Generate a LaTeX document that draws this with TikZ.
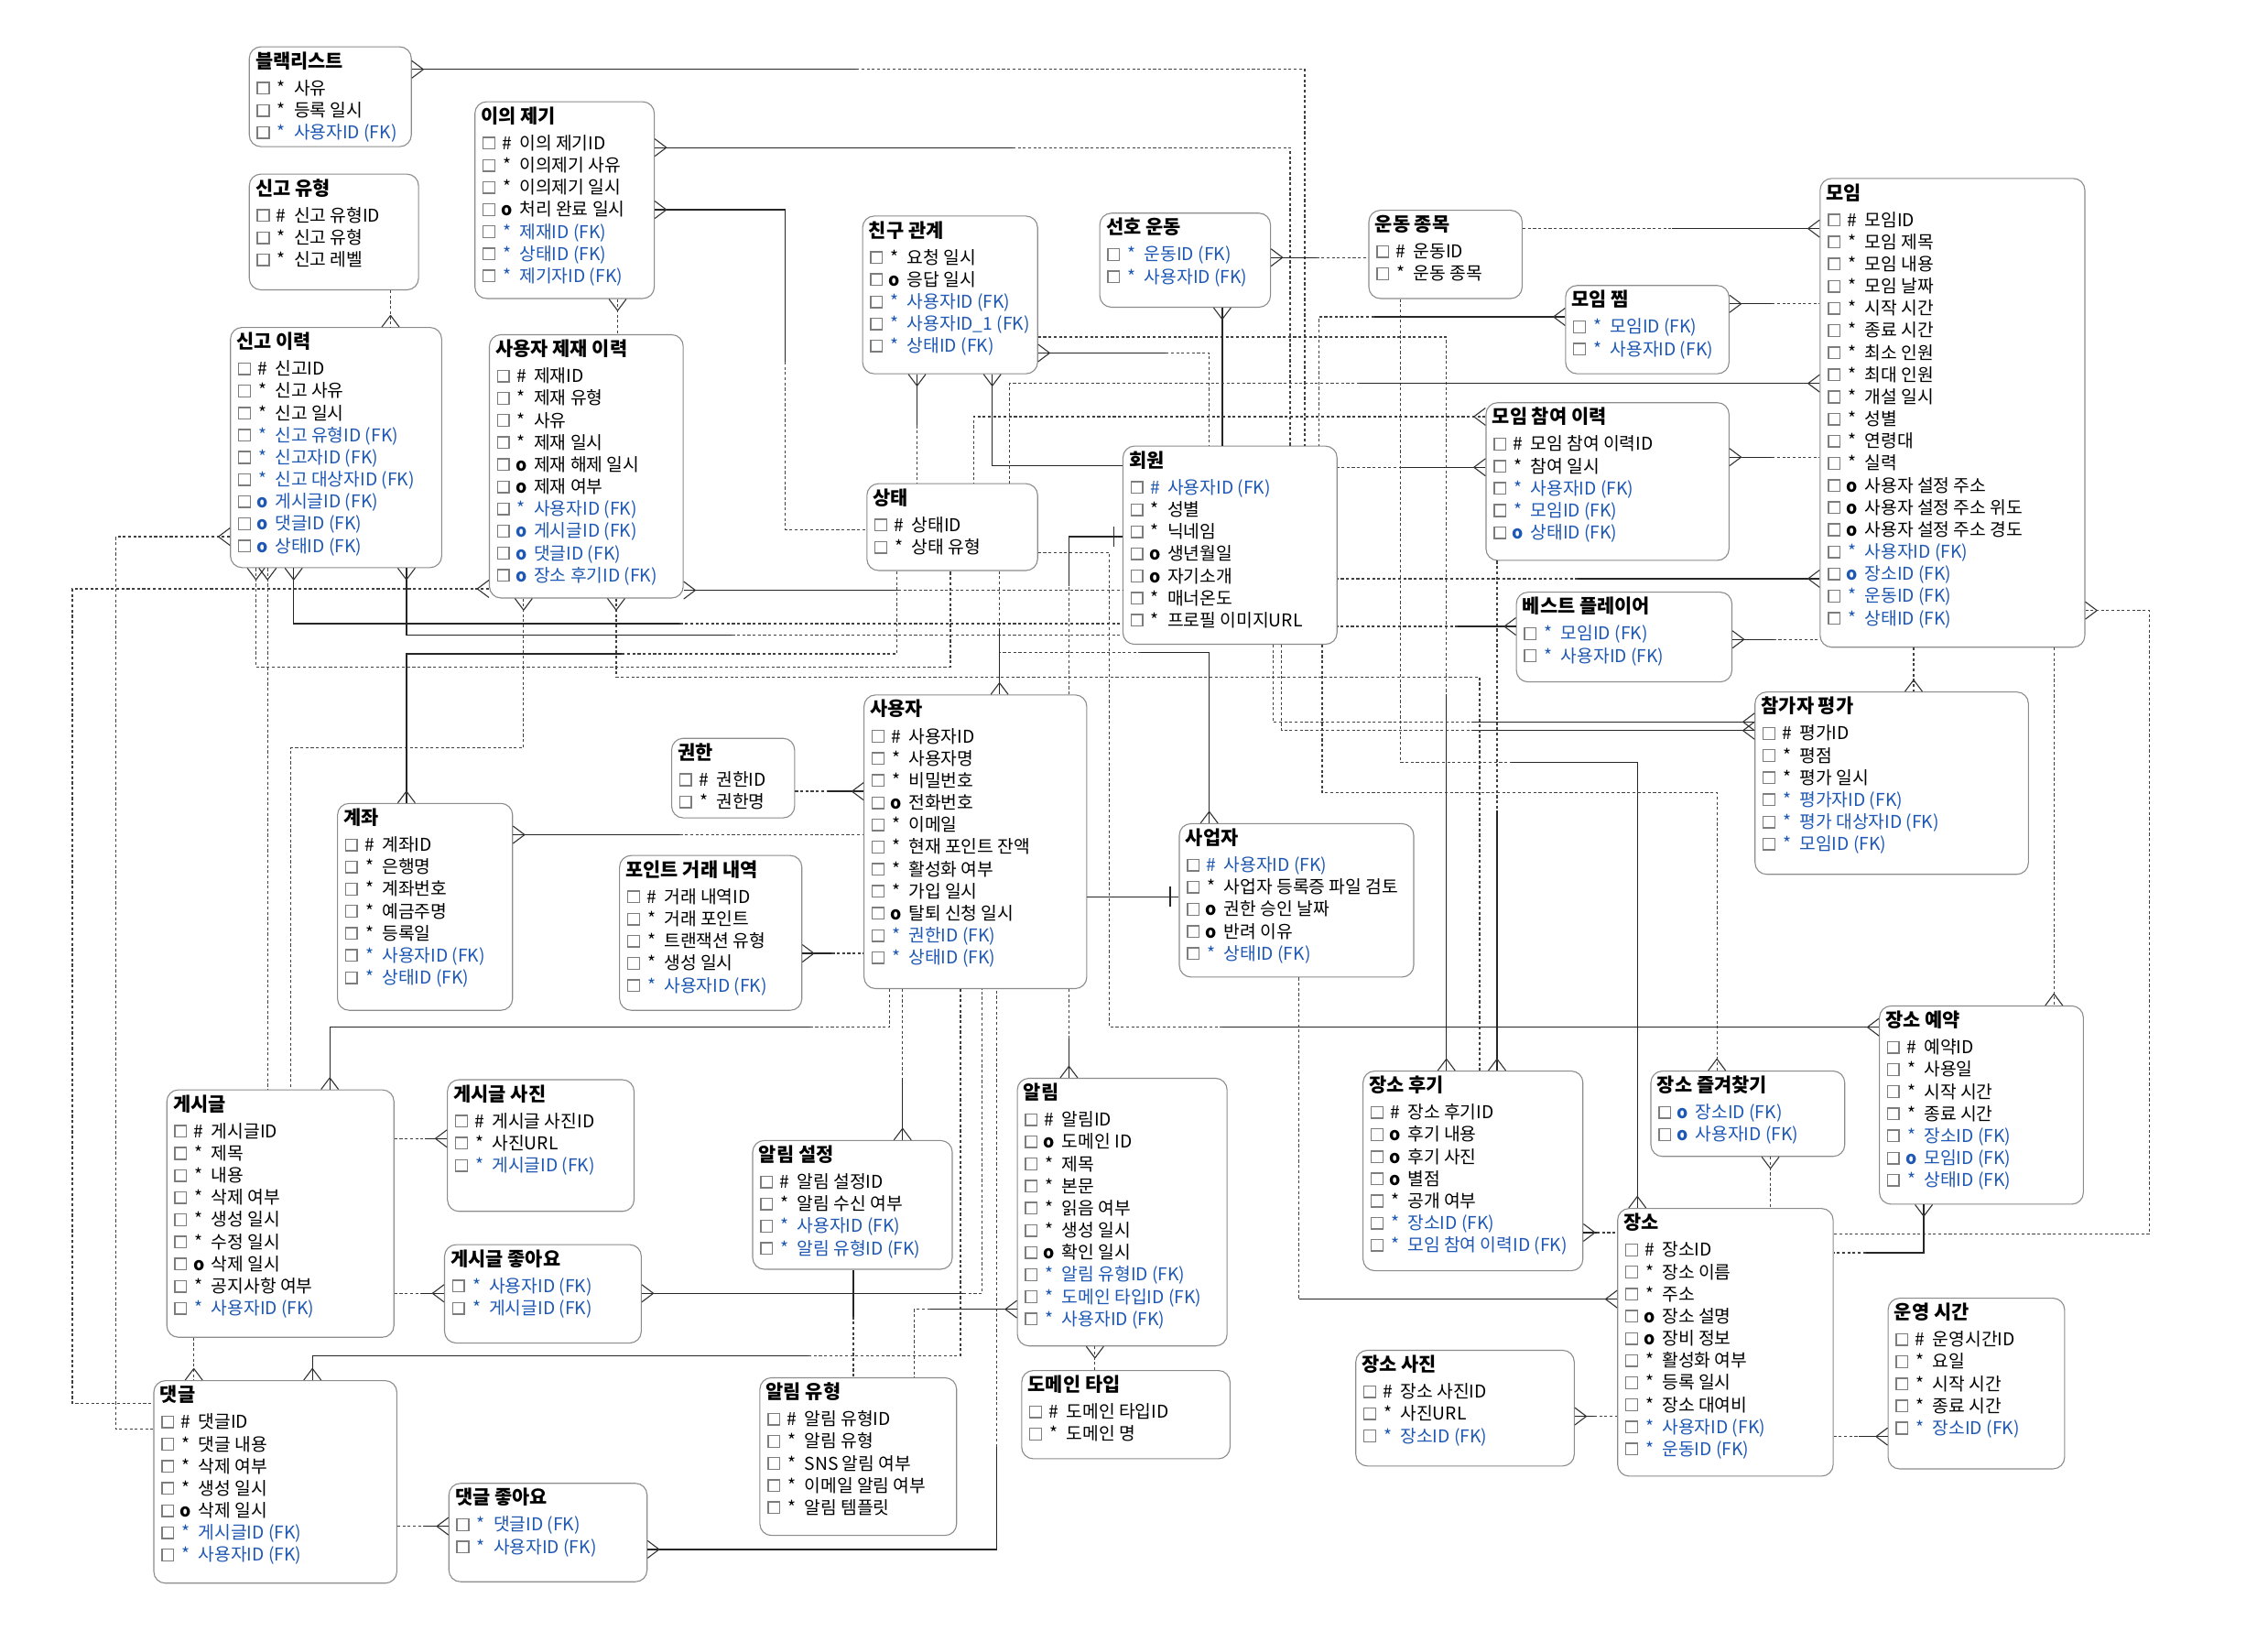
\documentclass[tikz,border=0pt]{standalone}
\usepackage{fontspec}
\setmainfont{Noto Sans CJK KR}
\usetikzlibrary{calc}
\definecolor{fkc}{RGB}{30,88,180}
\definecolor{bxc}{RGB}{140,140,140}
\definecolor{chkc}{RGB}{125,125,125}
\newcounter{rc}
\tikzset{
 ebox/.style={draw=bxc, line width=0.7pt, rounded corners=8pt, fill=white, inner sep=0pt},
 etitle/.style={font=\fontsize{13.2}{15}\selectfont\bfseries, anchor=base west, inner sep=0pt},
 rowt/.style={font=\fontsize{12.2}{14}\selectfont, anchor=base west, inner sep=0pt},
 symt/.style={font=\fontsize{12.2}{14}\selectfont, anchor=base, inner sep=0pt},
 chk/.style={draw=chkc, line width=0.9pt},
 sl/.style={draw=black!85, line width=0.8pt},
 dl/.style={draw=black!75, line width=0.8pt, dash pattern=on 2pt off 1.6pt},
 cfs/.style={draw=black!80, line width=0.7pt},
}
\newcommand\Ent[6]{%
 \node[ebox, anchor=north west, minimum width={(#4-#2)*1pt}, minimum height={(#5-#3)*1pt}] (#1) at (#2,#3) {};
 \node[etitle] (#1-t) at (#2+4.5,#3+15) {#6};
 \xdef\eL{#2}\xdef\eT{#3}\xdef\eI{0}%
}
\newcommand\Erow[3]{%
 \pgfmathsetmacro\myry{\eT+29+\eI*15.3}%
 \stepcounter{rc}%
 \draw[chk] (\eL+6,\myry-4) rectangle (\eL+14,\myry+4);%
 \node[symt,text=#3] (s\therc) at (\eL+22.5,\myry+4.4) {#1};%
 \node[rowt,text=#3] (t\therc) at (\eL+31,\myry+4.4) {#2};%
 \pgfmathtruncatemacro\eInext{\eI+1}\xdef\eI{\eInext}%
}
\newcommand\EA[2]{\Erow{#1}{#2}{black}}
\newcommand\EF[2]{\Erow{#1}{#2}{fkc}}
\newcommand\Eo{\textbf{o}}
\newcommand\cfE[1]{\draw[cfs] (#1) ++(8,0) -- ++(-8,-6) (#1) ++(8,0) -- ++(-8,6);}
\newcommand\cfW[1]{\draw[cfs] (#1) ++(-8,0) -- ++(8,-6) (#1) ++(-8,0) -- ++(8,6);}
\newcommand\cfN[1]{\draw[cfs] (#1) ++(0,-8) -- ++(-6,8) (#1) ++(0,-8) -- ++(6,8);}
\newcommand\cfS[1]{\draw[cfs] (#1) ++(0,8) -- ++(-6,-8) (#1) ++(0,8) -- ++(6,-8);}
\begin{document}
\begin{tikzpicture}[x=1pt,y=-1pt]
\useasboundingbox[fill=white] (0,0) rectangle (1568,1127);
% ---------------- entities ----------------
\Ent{blk}{172}{32}{284}{101}{블랙리스트}
\EA{*}{사유}\EA{*}{등록 일시}\EF{*}{사용자ID (FK)}
\Ent{iui}{328}{70}{452}{206}{이의 제기}
\EA{\#}{이의 제기ID}\EA{*}{이의제기 사유}\EA{*}{이의제기 일시}\EA{\Eo}{처리 완료 일시}\EF{*}{제재ID (FK)}\EF{*}{상태ID (FK)}\EF{*}{제기자ID (FK)}
\Ent{sgt}{172}{120}{289}{200}{신고 유형}
\EA{\#}{신고 유형ID}\EA{*}{신고 유형}\EA{*}{신고 레벨}
\Ent{sgh}{159}{226}{305}{392}{신고 이력}
\EA{\#}{신고ID}\EA{*}{신고 사유}\EA{*}{신고 일시}\EF{*}{신고 유형ID (FK)}\EF{*}{신고자ID (FK)}\EF{*}{신고 대상자ID (FK)}\EF{\Eo}{게시글ID (FK)}\EF{\Eo}{댓글ID (FK)}\EF{\Eo}{상태ID (FK)}
\Ent{jje}{338}{231}{472}{413}{사용자 제재 이력}
\EA{\#}{제재ID}\EA{*}{제재 유형}\EA{*}{사유}\EA{*}{제재 일시}\EA{\Eo}{제재 해제 일시}\EA{\Eo}{제재 여부}\EF{*}{사용자ID (FK)}\EF{\Eo}{게시글ID (FK)}\EF{\Eo}{댓글ID (FK)}\EF{\Eo}{장소 후기ID (FK)}
\Ent{chg}{596}{149}{717}{258}{친구 관계}
\EA{*}{요청 일시}\EA{\Eo}{응답 일시}\EF{*}{사용자ID (FK)}\EF{*}{사용자ID\_1 (FK)}\EF{*}{상태ID (FK)}
\Ent{shw}{760}{147}{878}{212}{선호 운동}
\EF{*}{운동ID (FK)}\EF{*}{사용자ID (FK)}
\Ent{udj}{946}{145}{1052}{206}{운동 종목}
\EA{\#}{운동ID}\EA{*}{운동 종목}
\Ent{mjj}{1082}{197}{1195}{258}{모임 찜}
\EF{*}{모임ID (FK)}\EF{*}{사용자ID (FK)}
\Ent{moim}{1258}{123}{1441}{447}{모임}
\EA{\#}{모임ID}\EA{*}{모임 제목}\EA{*}{모임 내용}\EA{*}{모임 날짜}\EA{*}{시작 시간}\EA{*}{종료 시간}\EA{*}{최소 인원}\EA{*}{최대 인원}\EA{*}{개설 일시}\EA{*}{성별}\EA{*}{연령대}\EA{*}{실력}\EA{\Eo}{사용자 설정 주소}\EA{\Eo}{사용자 설정 주소 위도}\EA{\Eo}{사용자 설정 주소 경도}\EF{*}{사용자ID (FK)}\EF{\Eo}{장소ID (FK)}\EF{*}{운동ID (FK)}\EF{*}{상태ID (FK)}
\Ent{mch}{1027}{278}{1195}{387}{모임 참여 이력}
\EA{\#}{모임 참여 이력ID}\EA{*}{참여 일시}\EF{*}{사용자ID (FK)}\EF{*}{모임ID (FK)}\EF{\Eo}{상태ID (FK)}
\Ent{hw}{776}{308}{924}{445}{회원}
\EF{\#}{사용자ID (FK)}\EA{*}{성별}\EA{*}{닉네임}\EA{\Eo}{생년월일}\EA{\Eo}{자기소개}\EA{*}{매너온도}\EA{*}{프로필 이미지URL}
\Ent{st}{599}{334}{717}{394}{상태}
\EA{\#}{상태ID}\EA{*}{상태 유형}
\Ent{bp}{1048}{409}{1197}{471}{베스트 플레이어}
\EF{*}{모임ID (FK)}\EF{*}{사용자ID (FK)}
\Ent{cgp}{1213}{478}{1402}{604}{참가자 평가}
\EA{\#}{평가ID}\EA{*}{평점}\EA{*}{평가 일시}\EF{*}{평가자ID (FK)}\EF{*}{평가 대상자ID (FK)}\EF{*}{모임ID (FK)}
\Ent{usr}{597}{480}{751}{683}{사용자}
\EA{\#}{사용자ID}\EA{*}{사용자명}\EA{*}{비밀번호}\EA{\Eo}{전화번호}\EA{*}{이메일}\EA{*}{현재 포인트 잔액}\EA{*}{활성화 여부}\EA{*}{가입 일시}\EA{\Eo}{탈퇴 신청 일시}\EF{*}{권한ID (FK)}\EF{*}{상태ID (FK)}
\Ent{gh}{464}{510}{549}{565}{권한}
\EA{\#}{권한ID}\EA{*}{권한명}
\Ent{gj}{233}{555}{354}{698}{계좌}
\EA{\#}{계좌ID}\EA{*}{은행명}\EA{*}{계좌번호}\EA{*}{예금주명}\EA{*}{등록일}\EF{*}{사용자ID (FK)}\EF{*}{상태ID (FK)}
\Ent{pt}{428}{591}{554}{698}{포인트 거래 내역}
\EA{\#}{거래 내역ID}\EA{*}{거래 포인트}\EA{*}{트랜잭션 유형}\EA{*}{생성 일시}\EF{*}{사용자ID (FK)}
\Ent{bz}{815}{569}{977}{675}{사업자}
\EF{\#}{사용자ID (FK)}\EA{*}{사업자 등록증 파일 검토}\EA{\Eo}{권한 승인 날짜}\EA{\Eo}{반려 이유}\EF{*}{상태ID (FK)}
\Ent{jy}{1299}{695}{1440}{832}{장소 예약}
\EA{\#}{예약ID}\EA{*}{사용일}\EA{*}{시작 시간}\EA{*}{종료 시간}\EF{*}{장소ID (FK)}\EF{\Eo}{모임ID (FK)}\EF{*}{상태ID (FK)}
\Ent{gsg}{115}{753}{272}{924}{게시글}
\EA{\#}{게시글ID}\EA{*}{제목}\EA{*}{내용}\EA{*}{삭제 여부}\EA{*}{생성 일시}\EA{*}{수정 일시}\EA{\Eo}{삭제 일시}\EA{*}{공지사항 여부}\EF{*}{사용자ID (FK)}
\Ent{gsp}{309}{746}{438}{837}{게시글 사진}
\EA{\#}{게시글 사진ID}\EA{*}{사진URL}\EF{*}{게시글ID (FK)}
\Ent{jh}{942}{740}{1094}{878}{장소 후기}
\EA{\#}{장소 후기ID}\EA{\Eo}{후기 내용}\EA{\Eo}{후기 사진}\EA{\Eo}{별점}\EA{*}{공개 여부}\EF{*}{장소ID (FK)}\EF{*}{모임 참여 이력ID (FK)}
\Ent{jf}{1141}{740}{1275}{799}{장소 즐겨찾기}
\EF{\Eo}{장소ID (FK)}\EF{\Eo}{사용자ID (FK)}
\Ent{as}{520}{788}{658}{877}{알림 설정}
\EA{\#}{알림 설정ID}\EA{*}{알림 수신 여부}\EF{*}{사용자ID (FK)}\EF{*}{알림 유형ID (FK)}
\Ent{al}{703}{745}{848}{930}{알림}
\EA{\#}{알림ID}\EA{\Eo}{도메인 ID}\EA{*}{제목}\EA{*}{본문}\EA{*}{읽음 여부}\EA{*}{생성 일시}\EA{\Eo}{확인 일시}\EF{*}{알림 유형ID (FK)}\EF{*}{도메인 타입ID (FK)}\EF{*}{사용자ID (FK)}
\Ent{gjy}{307}{860}{443}{928}{게시글 좋아요}
\EF{*}{사용자ID (FK)}\EF{*}{게시글ID (FK)}
\Ent{js}{1118}{835}{1267}{1020}{장소}
\EA{\#}{장소ID}\EA{*}{장소 이름}\EA{*}{주소}\EA{\Eo}{장소 설명}\EA{\Eo}{장비 정보}\EA{*}{활성화 여부}\EA{*}{등록 일시}\EA{*}{장소 대여비}\EF{*}{사용자ID (FK)}\EF{*}{운동ID (FK)}
\Ent{uy}{1305}{897}{1427}{1015}{운영 시간}
\EA{\#}{운영시간ID}\EA{*}{요일}\EA{*}{시작 시간}\EA{*}{종료 시간}\EF{*}{장소ID (FK)}
\Ent{jsp}{937}{933}{1088}{1013}{장소 사진}
\EA{\#}{장소 사진ID}\EA{*}{사진URL}\EF{*}{장소ID (FK)}
\Ent{dm}{706}{947}{850}{1008}{도메인 타입}
\EA{\#}{도메인 타입ID}\EA{*}{도메인 명}
\Ent{dg}{106}{954}{274}{1094}{댓글}
\EA{\#}{댓글ID}\EA{*}{댓글 내용}\EA{*}{삭제 여부}\EA{*}{생성 일시}\EA{\Eo}{삭제 일시}\EF{*}{게시글ID (FK)}\EF{*}{사용자ID (FK)}
\Ent{ay}{525}{952}{661}{1061}{알림 유형}
\EA{\#}{알림 유형ID}\EA{*}{알림 유형}\EA{*}{SNS 알림 여부}\EA{*}{이메일 알림 여부}\EA{*}{알림 템플릿}
\Ent{djy}{310}{1025}{447}{1093}{댓글 좋아요}
\EF{*}{댓글ID (FK)}\EF{*}{사용자ID (FK)}
% ---------------- connectors ----------------
\draw[sl] (blk.east |- 0,48) -- (592,48);
\draw[dl] (592,48) -| (hw.north -| 902,0);
\cfE{blk.east |- 0,48}
\draw[sl] (iui.east |- 0,102) -- (700,102);
\draw[dl] (700,102) -| (hw.north -| 892,0);
\cfE{iui.east |- 0,102}
\draw[sl] (iui.east |- 0,145) -| (543,250);
\draw[dl] (543,250) |- (st.west |- 0,366);
\cfE{iui.east |- 0,145}
\draw[dl] (iui.south -| 427,0) -- (jje.north -| 427,0);
\cfS{iui.south -| 427,0}
\draw[dl] (sgt.south -| 270,0) -- (sgh.north -| 270,0);
\cfN{sgh.north -| 270,0}
\draw[sl] (chg.south -| 634,0) -- (634,294);
\draw[dl] (634,294) -- (st.north -| 634,0);
\cfS{chg.south -| 634,0}
\draw[sl] (chg.south -| 686,0) |- (hw.west |- 0,322);
\cfS{chg.south -| 686,0}
\draw[sl] (chg.east |- 0,244) -- (806,244);
\draw[dl] (806,244) -| (hw.north -| 836,0);
\cfE{chg.east |- 0,244}
\draw[dl] (chg.east |- 0,233) -| (1000,480);
\draw[sl] (1000,480) -- (jh.north -| 1000,0);
\cfN{jh.north -| 1000,0}
\draw[sl] (shw.east |- 0,178) -- (910,178);
\draw[dl] (910,178) -- (udj.west |- 0,178);
\cfE{shw.east |- 0,178}
\draw[sl] (shw.south -| 845,0) -- (hw.north -| 845,0);
\cfS{shw.south -| 845,0}
\draw[dl] (udj.east |- 0,158) -- (1156,158);
\draw[sl] (1156,158) -- (moim.west |- 0,158);
\cfW{moim.west |- 0,158}
\draw[dl] (udj.south -| 968,0) |- (1045,527);
\draw[sl] (1045,527) -| (js.north -| 1132,0);
\cfN{js.north -| 1132,0}
\draw[sl] (mjj.east |- 0,210) -- (1225,210);
\draw[dl] (1225,210) -- (moim.west |- 0,210);
\cfE{mjj.east |- 0,210}
\draw[sl] (mjj.west |- 0,219) -- (950,219);
\draw[dl] (950,219) -| (hw.north -| 912,0);
\cfW{mjj.west |- 0,219}
\draw[sl] (moim.west |- 0,265) -- (940,265);
\draw[dl] (940,265) -| (st.north -| 698,0);
\cfW{moim.west |- 0,265}
\draw[dl] (mch.west |- 0,288) -| (st.north -| 673,0);
\cfW{mch.west |- 0,288}
\draw[sl] (mch.west |- 0,323) -- (969,323);
\draw[dl] (969,323) -- (hw.east |- 0,323);
\cfW{mch.west |- 0,323}
\draw[sl] (mch.east |- 0,316) -- (1225,316);
\draw[dl] (1225,316) -- (moim.west |- 0,316);
\cfE{mch.east |- 0,316}
\draw[dl] (mch.south -| 1035,0) -- (1035,560);
\draw[sl] (1035,560) -- (jh.north -| 1035,0);
\cfN{jh.north -| 1035,0}
\draw[sl] (moim.west |- 0,400) -- (1091,400);
\draw[dl] (1091,400) -- (hw.east |- 0,400);
\cfW{moim.west |- 0,400}
\draw[sl] (bp.west |- 0,433) -- (1008,433);
\draw[dl] (1008,433) -- (hw.east |- 0,433);
\cfW{bp.west |- 0,433}
\draw[sl] (bp.east |- 0,442) -- (1226,442);
\draw[dl] (1226,442) -- (moim.west |- 0,442);
\cfE{bp.east |- 0,442}
\draw[dl] (moim.south -| 1323,0) -- (cgp.north -| 1323,0);
\cfN{cgp.north -| 1323,0}
\draw[dl] (moim.south -| 1420,0) -- (jy.north -| 1420,0);
\cfN{jy.north -| 1420,0}
\draw[dl] (moim.east |- 0,422) -| (1486,853) -- (js.east |- 0,853);
\cfE{moim.east |- 0,422}
\draw[dl] (hw.south -| 880,0) |- (1018,499);
\draw[sl] (1018,499) -- (cgp.west |- 0,499);
\draw[dl] (hw.south -| 886,0) |- (1018,505);
\draw[sl] (1018,505) -- (cgp.west |- 0,505);
\cfW{cgp.west |- 0,499}
\cfW{cgp.west |- 0,505}
\draw[dl] (hw.south -| 914,0) |- (1187,548) -- (jf.north -| 1187,0);
\cfN{jf.north -| 1187,0}
\draw[dl] (jje.south -| 426,0) |- (1023,468) -- (jh.north -| 1023,0);
\cfS{jje.south -| 426,0}
\draw[sl] (jje.east |- 0,408) -- (621,408);
\draw[dl] (621,408) -- (hw.west |- 0,408);
\cfE{jje.east |- 0,408}
\draw[sl] (sgh.south -| 203,0) |- (470,431);
\draw[dl] (470,431) -- (hw.west |- 0,431);
\cfS{sgh.south -| 203,0}
\draw[sl] (sgh.south -| 281,0) |- (506,439);
\draw[dl] (506,439) -- (hw.west |- 0,439);
\cfS{sgh.south -| 281,0}
\draw[dl] (sgh.south -| 177,0) |- (657,461) -- (st.south -| 657,0);
\cfS{sgh.south -| 177,0}
\draw[dl] (sgh.south -| 185,0) -- (gsg.north -| 185,0);
\cfS{sgh.south -| 185,0}
\draw[dl] (sgh.west |- 0,371) -| (80,988) -- (dg.west |- 0,988);
\cfW{sgh.west |- 0,371}
\draw[dl] (jje.west |- 0,407) -| (50,970) -- (dg.west |- 0,970);
\cfW{jje.west |- 0,407}
\draw[dl] (jje.south -| 362,0) |- (201,517) -- (gsg.north -| 201,0);
\cfS{jje.south -| 362,0}
\draw[sl] (gj.north -| 281,0) |- (430,452);
\draw[dl] (430,452) -| (st.south -| 620,0);
\cfN{gj.north -| 281,0}
\draw[sl] (gj.east |- 0,577) -- (470,577);
\draw[dl] (470,577) -- (usr.west |- 0,577);
\cfE{gj.east |- 0,577}
\draw[dl] (gh.east |- 0,547) -- (572,547);
\draw[sl] (572,547) -- (usr.west |- 0,547);
\cfW{usr.west |- 0,547}
\draw[sl] (pt.east |- 0,659) -- (575,659);
\draw[dl] (575,659) -- (usr.west |- 0,659);
\cfE{pt.east |- 0,659}
\draw[sl] (usr.east |- 0,620) -- (bz.west |- 0,620);
\draw[sl] (bz.west |- 0,613) ++(-6,0) -- ++(0,14);
\draw[dl] (usr.north -| 739,0) -- (739,405);
\draw[sl] (739,405) |- (hw.west |- 0,371);
\draw[sl] (hw.west |- 0,364) ++(-6,0) -- ++(0,14);
\draw[dl] (st.south -| 691,0) -- (691,435);
\draw[sl] (691,435) -- (usr.north -| 691,0);
\cfN{usr.north -| 691,0}
\draw[sl] (bz.north -| 836,0) |- (789,451);
\draw[dl] (789,451) -- (691,451);
\cfN{bz.north -| 836,0}
\draw[dl] (st.east |- 0,382) -| (767,710) -- (845,710);
\draw[sl] (845,710) -- (jy.west |- 0,710);
\cfW{jy.west |- 0,710}
\draw[sl] (gsg.north -| 228,0) |- (560,710);
\draw[dl] (560,710) -| (usr.south -| 615,0);
\cfN{gsg.north -| 228,0}
\draw[dl] (usr.south -| 624,0) -- (624,745);
\draw[sl] (624,745) -- (as.north -| 624,0);
\cfN{as.north -| 624,0}
\draw[sl] (dg.north -| 216,0) |- (559,937);
\draw[dl] (559,937) -| (usr.south -| 664,0);
\cfN{dg.north -| 216,0}
\draw[sl] (gjy.east |- 0,894) -- (666,894);
\draw[dl] (666,894) -| (usr.south -| 679,0);
\cfE{gjy.east |- 0,894}
\draw[sl] (djy.east |- 0,1071) -| (689,1000);
\draw[dl] (689,1000) -- (usr.south -| 689,0);
\cfE{djy.east |- 0,1071}
\draw[dl] (usr.south -| 739,0) -- (739,718);
\draw[sl] (739,718) -- (al.north -| 739,0);
\cfN{al.north -| 739,0}
\draw[sl] (as.south -| 590,0) -- (590,910);
\draw[dl] (590,910) -- (ay.north -| 590,0);
\draw[sl] (al.west |- 0,905) -- (643,905);
\draw[dl] (643,905) -| (ay.north -| 632,0);
\cfW{al.west |- 0,905}
\draw[dl] (al.south -| 757,0) -- (dm.north -| 757,0);
\cfS{al.south -| 757,0}
\draw[dl] (gsg.east |- 0,787) -- (294,787);
\draw[sl] (294,787) -- (gsp.west |- 0,787);
\cfW{gsp.west |- 0,787}
\draw[dl] (gsg.east |- 0,894) -- (291,894);
\draw[sl] (291,894) -- (gjy.west |- 0,894);
\cfW{gjy.west |- 0,894}
\draw[dl] (gsg.south -| 134,0) -- (dg.north -| 134,0);
\cfN{dg.north -| 134,0}
\draw[dl] (dg.east |- 0,1055) -- (293,1055);
\draw[sl] (293,1055) -- (djy.west |- 0,1055);
\cfW{djy.west |- 0,1055}
\draw[sl] (jh.east |- 0,852) -- (1104,852);
\draw[dl] (1104,852) -- (js.west |- 0,852);
\cfE{jh.east |- 0,852}
\draw[sl] (jsp.east |- 0,979) -- (1102,979);
\draw[dl] (1102,979) -- (js.west |- 0,979);
\cfE{jsp.east |- 0,979}
\draw[dl] (js.east |- 0,993) -- (1285,993);
\draw[sl] (1285,993) -- (uy.west |- 0,993);
\cfW{uy.west |- 0,993}
\draw[dl] (jf.south -| 1224,0) -- (js.north -| 1224,0);
\cfS{jf.south -| 1224,0}
\draw[sl] (jy.south -| 1330,0) |- (1290,866);
\draw[dl] (1290,866) -- (js.east |- 0,866);
\cfS{jy.south -| 1330,0}
\draw[dl] (bz.south -| 898,0) -- (898,898);
\draw[sl] (898,898) -- (js.west |- 0,898);
\cfW{js.west |- 0,898}
\end{tikzpicture}
\end{document}
